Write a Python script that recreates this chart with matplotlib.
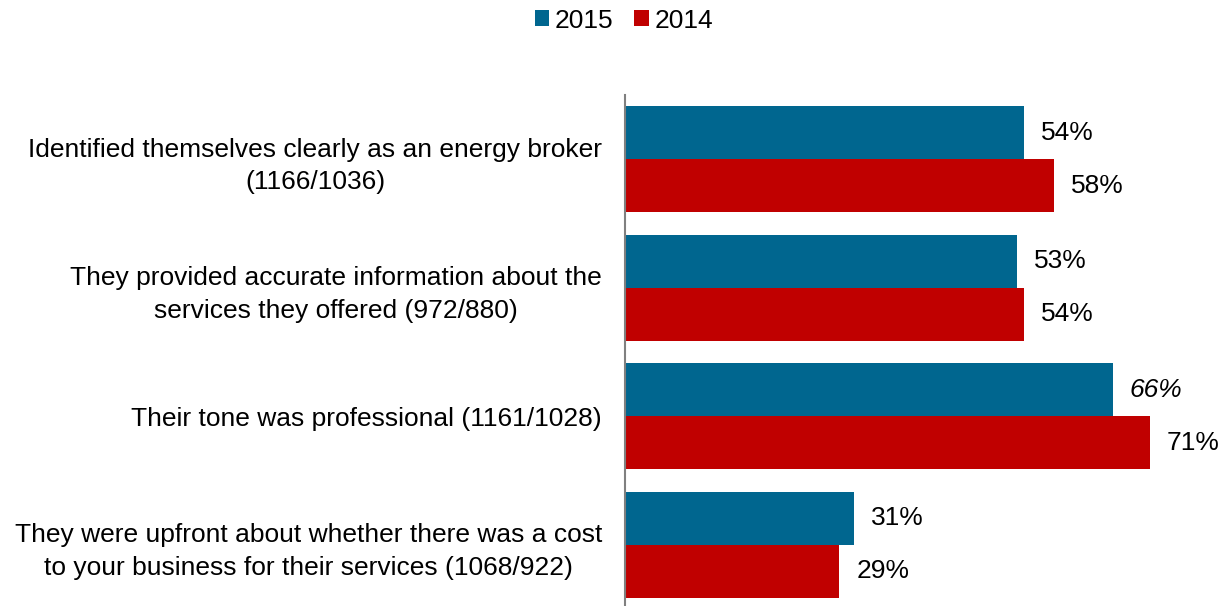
import matplotlib
matplotlib.use("Agg")
import matplotlib.pyplot as plt
import numpy as np

plt.rcParams['font.family'] = ['Liberation Sans', 'DejaVu Sans']

categories = [
    "Identified themselves clearly as an energy broker\n(1166/1036)",
    "They provided accurate information about the\nservices they offered (972/880)",
    "Their tone was professional (1161/1028)",
    "They were upfront about whether there was a cost\nto your business for their services (1068/922)",
]
values_2015 = [54, 53, 66, 31]
values_2014 = [58, 54, 71, 29]
series_names = ["2015", "2014"]
italic_2015 = [False, False, True, False]

c2015 = "#00668f"
c2014 = "#c00000"

fig = plt.figure(figsize=(12.28, 6.06), dpi=100)
ax = fig.add_axes([625/1228, 1 - 609/606, 1 - 625/1228, (609 - 95)/606])

n = len(categories)
y = np.arange(n)
h = 0.4125
ax.barh(y - h/2, values_2015, height=h, color=c2015, label=series_names[0])
ax.barh(y + h/2, values_2014, height=h, color=c2014, label=series_names[1])

ax.set_xlim(0, 81.6)
ax.set_ylim(n - 0.5, -0.5)

fs = 19
for i in range(n):
    ax.text(values_2015[i] + 2.3, y[i] - h/2, f"{values_2015[i]}%", va='center', ha='left',
            fontsize=fs, style='italic' if italic_2015[i] else 'normal')
    ax.text(values_2014[i] + 2.3, y[i] + h/2, f"{values_2014[i]}%", va='center', ha='left',
            fontsize=fs)

ax.set_yticks(y)
ax.set_yticklabels(categories, fontsize=fs, multialignment='center', linespacing=1.45)
ax.tick_params(axis='y', length=0, pad=16.5)
ax.tick_params(axis='x', bottom=False, labelbottom=False)
for s in ['top', 'right', 'bottom']:
    ax.spines[s].set_visible(False)
ax.spines['left'].set_color('#808080')
ax.spines['left'].set_linewidth(1.5)

fig.legend(loc='upper center', bbox_to_anchor=(0.508, 1.025), ncol=2, frameon=False,
           fontsize=fs, handlelength=0.55, handleheight=0.55, handletextpad=0.2,
           columnspacing=0.8)

fig.savefig("out.png", dpi=100)
